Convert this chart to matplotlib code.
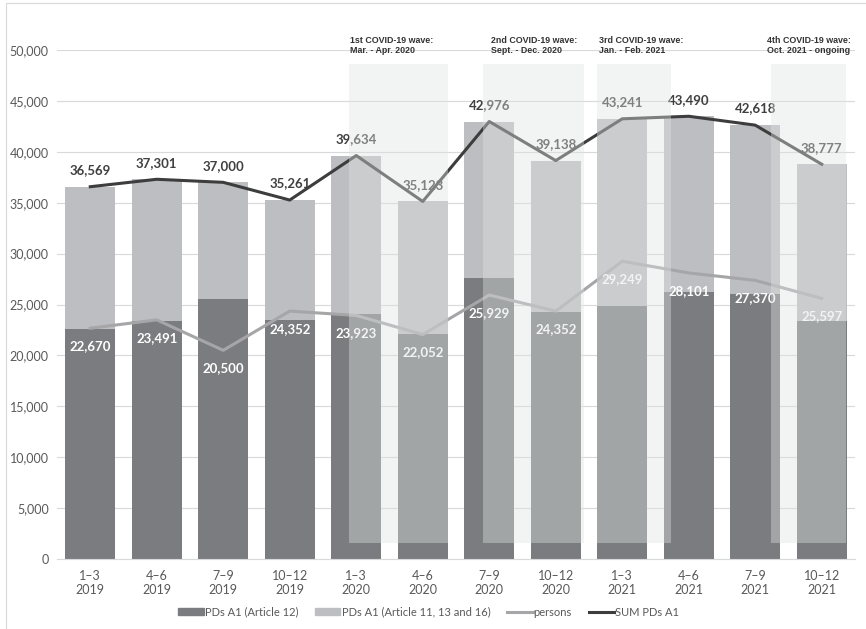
import numpy as np
import matplotlib.pyplot as plt
from matplotlib.patches import Rectangle, Patch
from matplotlib.lines import Line2D

# quarterly PDs A1 figures
quarters = ["1–3\n2019", "4–6\n2019", "7–9\n2019", "10–12\n2019",
            "1–3\n2020", "4–6\n2020", "7–9\n2020", "10–12\n2020",
            "1–3\n2021", "4–6\n2021", "7–9\n2021", "10–12\n2021"]
art12 = [22550, 23400, 25540, 23480, 24070, 22100, 27630, 24300, 24850, 26200, 26030, 23410]
sum_pds = [36569, 37301, 37000, 35261, 39634, 35123, 42976, 39138, 43241, 43490, 42618, 38777]
persons = [22670, 23491, 20500, 24352, 23923, 22052, 25929, 24352, 29249, 28101, 27370, 25597]

# covid waves (start/end in quarter-index units) and captions
wave_start = [3.895, 5.90, 7.62, 10.23]
wave_end = [5.38, 7.43, 8.73, 11.36]
wave_label_x = [3.91, 6.02, 7.65, 10.17]
wave_text = ["1st COVID-19 wave:\nMar. - Apr. 2020",
             "2nd COVID-19 wave:\nSept. - Dec. 2020",
             "3rd COVID-19 wave:\nJan. - Feb. 2021",
             "4th COVID-19 wave:\nOct. 2021 - ongoing"]

plt.rcParams['font.family'] = ['Lato', 'DejaVu Sans']

dark = "#7b7c80"
light = "#bdbec1"
pers_col = "#a6a6a9"
sum_col = "#3d3d3d"

fig = plt.figure(figsize=(8.66, 6.29), dpi=100)
ax = fig.add_axes([57/866, 1 - 559/629, (855 - 57)/866, (559 - 50)/629])

x = np.arange(len(quarters))
other = np.array(sum_pds) - np.array(art12)
ax.bar(x, art12, width=0.75, color=dark, zorder=2)
ax.bar(x, other, bottom=art12, width=0.75, color=light, zorder=2)

ax.plot(x, persons, color=pers_col, lw=2.2, zorder=3)
ax.plot(x, sum_pds, color=sum_col, lw=2.2, zorder=3)

for xi, v in zip(x, sum_pds):
    ax.annotate(f"{v:,}", (xi, v), xytext=(0, 12), textcoords="offset points",
                ha="center", va="center", fontsize=9.5, fontweight="bold",
                color="#404040", zorder=4)
for xi, v in zip(x, persons):
    ax.annotate(f"{v:,}", (xi, v), xytext=(0, -13), textcoords="offset points",
                ha="center", va="center", fontsize=9.5, fontweight="bold",
                color="white", zorder=4)

# translucent wave highlights sit above everything
for s, e, lx, t in zip(wave_start, wave_end, wave_label_x, wave_text):
    ax.add_patch(Rectangle((s, 1540), e - s, 48600 - 1540,
                           facecolor="#dfe3e1", alpha=0.4, edgecolor="none",
                           zorder=10))
    ax.text(lx, 51400, t, ha="left", va="top", fontsize=6.4,
            fontweight="bold", color="#333333", linespacing=1.15,
            family=["Liberation Sans", "DejaVu Sans"],
            clip_on=False, zorder=11)

ax.set_xlim(-0.5, len(quarters) - 0.5)
ax.set_ylim(0, 50000)
ax.set_yticks(np.arange(0, 50001, 5000))
ax.yaxis.set_major_formatter(plt.FuncFormatter(lambda v, p: f"{int(v):,}"))
ax.set_xticks(x)
ax.set_xticklabels(quarters)
ax.tick_params(axis="both", length=0, labelsize=9, colors="#595959")
ax.tick_params(axis="x", pad=8)
ax.tick_params(axis="y", pad=6)
ax.grid(axis="y", color="#d9d9d9", lw=0.8, zorder=0)
ax.set_axisbelow(True)
for side in ["top", "right", "left"]:
    ax.spines[side].set_visible(False)
ax.spines["bottom"].set_color("#d9d9d9")

handles = [Patch(color=dark), Patch(color=light),
           Line2D([], [], color=pers_col, lw=2.2),
           Line2D([], [], color=sum_col, lw=2.2)]
labels = ["PDs A1 (Article 12)", "PDs A1 (Article 11, 13 and 16)",
          "persons", "SUM PDs A1"]
fig.legend(handles, labels, loc="center", bbox_to_anchor=(0.495, 1 - 612/629),
           ncol=4, frameon=False, fontsize=8, labelcolor="#595959",
           handlelength=2.3, handleheight=0.6, handletextpad=0.1,
           columnspacing=1.5)

# chart area border
fig.add_artist(Rectangle((6/866, -0.1), 1.2, 1.1 - 3/629, transform=fig.transFigure,
                         facecolor="none", edgecolor="#d9d9d9", lw=0.8))

fig.savefig("out.png", dpi=100)
